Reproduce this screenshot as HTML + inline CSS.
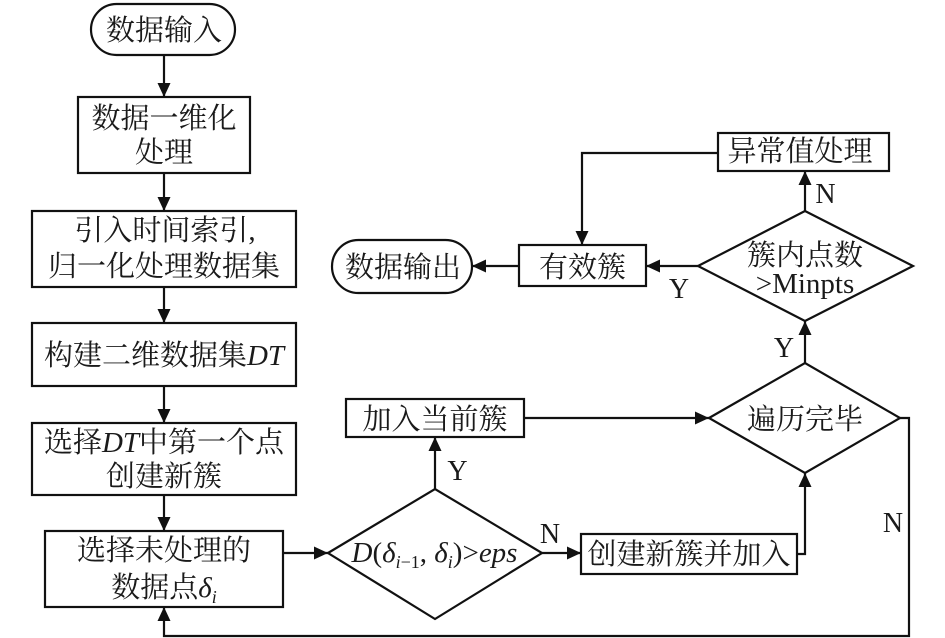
<!DOCTYPE html>
<html>
<head>
<meta charset="utf-8">
<style>
html,body{margin:0;padding:0;background:#fff;}
svg{display:block;}
text{font-family:"Liberation Serif","Noto Serif CJK SC",serif;font-size:29px;fill:#1a1a1a;text-anchor:middle;}
.i{font-style:italic;}
.l{font-size:28px;}
</style>
</head>
<body>
<svg width="945" height="638" viewBox="0 0 945 638" xmlns="http://www.w3.org/2000/svg">
<defs>
<marker id="a" markerUnits="userSpaceOnUse" markerWidth="16" markerHeight="14" refX="14" refY="7" orient="auto">
<path d="M0,0.5 L14,7 L0,13.5 Z" fill="#111"/>
</marker>
</defs>
<g fill="none" stroke="#111" stroke-width="2.2">
<rect x="91" y="4" width="144" height="51" rx="25.5"/>
<rect x="78" y="97" width="172" height="76"/>
<rect x="32" y="211" width="264" height="76"/>
<rect x="32" y="323" width="264" height="63"/>
<rect x="32" y="423" width="264" height="72"/>
<rect x="45" y="531" width="238" height="76"/>
<rect x="332" y="240" width="140" height="53" rx="26.5"/>
<rect x="519" y="245" width="127" height="41"/>
<rect x="718" y="133" width="171" height="38"/>
<rect x="346" y="399" width="178" height="38"/>
<rect x="581" y="534" width="216" height="40"/>
<path d="M698,266 L805,211 L913,266 L805,321 Z"/>
<path d="M709,418 L805,363 L900,418 L805,473 Z"/>
<path d="M328,553 L435,489 L542,553 L435,619 Z"/>
<g marker-end="url(#a)">
<path d="M164,55 V97"/>
<path d="M164,173 V211"/>
<path d="M164,287 V323"/>
<path d="M164,386 V423"/>
<path d="M164,495 V531"/>
<path d="M283,553 H328"/>
<path d="M542,553 H581"/>
<path d="M435,489 V437"/>
<path d="M524,418 H709"/>
<path d="M797,554 H805 V473"/>
<path d="M805,363 V321"/>
<path d="M805,211 V171"/>
<path d="M718,153 H582 V245"/>
<path d="M698,266 H646"/>
<path d="M519,266 H472"/>
<path d="M900,418 H909 V636 H164 V607"/>
</g>
</g>
<text x="164" y="40">数据输入</text>
<text x="164" y="128">数据一维化</text>
<text x="164" y="162">处理</text>
<text x="165" y="240">引入时间索引,</text>
<text x="164" y="276">归一化处理数据集</text>
<text x="164" y="365">构建二维数据集<tspan class="i">DT</tspan></text>
<text x="164" y="452">选择<tspan class="i">DT</tspan>中第一个点</text>
<text x="164" y="486">创建新簇</text>
<text x="164" y="560">选择未处理的</text>
<text x="164" y="597">数据点<tspan class="i">δ</tspan><tspan class="i" font-size="18" dy="6">i</tspan></text>
<text x="403" y="277">数据输出</text>
<text x="582.5" y="277">有效簇</text>
<text x="800" y="161">异常值处理</text>
<text x="805" y="265">簇内点数</text>
<text x="805" y="293" font-size="27">&gt;Minpts</text>
<text x="435" y="429">加入当前簇</text>
<text x="805" y="429">遍历完毕</text>
<text x="689" y="564">创建新簇并加入</text>
<text x="434.5" y="562"><tspan class="i">D</tspan>(<tspan class="i">δ</tspan><tspan font-size="18" dy="6"><tspan class="i">i</tspan>−1</tspan><tspan dy="-6">, </tspan><tspan class="i">δ</tspan><tspan class="i" font-size="18" dy="6">i</tspan><tspan dy="-6">)&gt;</tspan><tspan class="i">eps</tspan></text>
<text x="825.5" y="203" class="l">N</text>
<text x="679" y="298" class="l">Y</text>
<text x="784" y="357" class="l">Y</text>
<text x="457.5" y="480" class="l">Y</text>
<text x="550" y="543" class="l">N</text>
<text x="893" y="532" class="l">N</text>
</svg>
</body>
</html>
